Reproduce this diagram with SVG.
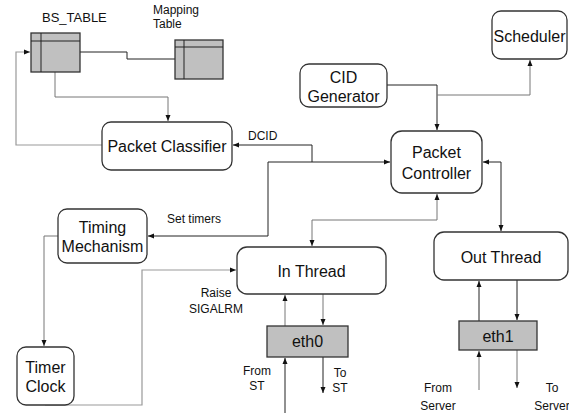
<svg xmlns="http://www.w3.org/2000/svg" width="569" height="413" viewBox="0 0 569 413">
<style>
.node{fill:#fff;stroke:#333;stroke-width:1.3}
.tbl{fill:#c0c0c0;stroke:#333;stroke-width:1.3}
.t{font-family:"Liberation Sans",Arial,sans-serif;font-size:16px;fill:#111;text-anchor:middle}
.s{font-family:"Liberation Sans",Arial,sans-serif;font-size:12px;fill:#111}
.c{fill:none;stroke:#222;stroke-width:1}
.g{fill:none;stroke:#777;stroke-width:1}
.lg{fill:none;stroke:#999;stroke-width:1.2}
</style>
<defs>
<marker id="a" viewBox="0 0 6 6" refX="6" refY="3" markerWidth="6" markerHeight="6" orient="auto-start-reverse" markerUnits="userSpaceOnUse">
<path d="M0,0.5 L6,3 L0,5.5 z" fill="#111"/>
</marker>
</defs>
<rect width="569" height="413" fill="#fff"/>
<g id="connectors">
<path class="c" d="M80,52 H127 V59 H175"/>
<path class="g" d="M55,72 V97 H168 V121" marker-end="url(#a)"/>
<path class="lg" d="M102,145 H16 V52 H30" marker-end="url(#a)"/>
<path class="c" d="M312,162 V145 H233" marker-end="url(#a)"/>
<path class="c" d="M390,162 H268 V236 H148" marker-start="url(#a)" marker-end="url(#a)"/>
<path class="c" d="M387,85 H437 V130" marker-end="url(#a)"/>
<path class="g" d="M437,95 H530 V60" marker-end="url(#a)"/>
<path class="g" d="M437,194 V220 H312 V246" marker-start="url(#a)" marker-end="url(#a)"/>
<path class="c" d="M483,162 H501 V231" marker-start="url(#a)" marker-end="url(#a)"/>
<path class="g" d="M58,236 H44 V346" marker-end="url(#a)"/>
<path class="lg" d="M45,405 H142 V270 H236" marker-end="url(#a)"/>
<path class="g" d="M285,326 V295" marker-end="url(#a)"/>
<path class="g" d="M323,294 V325" marker-end="url(#a)"/>
<path class="c" d="M285,413 V358" marker-end="url(#a)"/>
<path class="c" d="M323,357 V393" marker-end="url(#a)"/>
<path class="c" d="M479,321 V281" marker-end="url(#a)"/>
<path class="c" d="M517,280 V320" marker-end="url(#a)"/>
<path class="g" d="M479,390 V351" marker-end="url(#a)"/>
<path class="g" d="M517,350 V388" marker-end="url(#a)"/>
</g>
<g id="bs_table">
<rect class="tbl" x="31" y="33" width="49" height="39"/>
<path class="c" d="M31,41 H80 M41,33 V72" stroke="#444"/>
<text class="s" x="42" y="22" style="font-size:13px">BS_TABLE</text>
</g>
<g id="mapping_table">
<rect class="tbl" x="175" y="40" width="48" height="39"/>
<path class="c" d="M175,47 H223 M184,40 V79" stroke="#444"/>
<text class="s" x="153" y="14">Mapping</text>
<text class="s" x="153" y="28">Table</text>
</g>
<g id="packet_classifier">
<rect class="node" x="102" y="122" width="130" height="48" rx="9"/>
<text class="t" x="167" y="152">Packet Classifier</text>
</g>
<g id="cid_generator">
<rect class="node" x="300" y="64" width="87" height="43" rx="9"/>
<text class="t" x="343.5" y="83">CID</text>
<text class="t" x="343.5" y="102">Generator</text>
</g>
<g id="scheduler">
<rect class="node" x="492" y="11" width="75" height="48" rx="9"/>
<text class="t" x="529.5" y="42">Scheduler</text>
</g>
<g id="packet_controller">
<rect class="node" x="391" y="131" width="91" height="62" rx="11"/>
<text class="t" x="436.5" y="158">Packet</text>
<text class="t" x="436.5" y="179">Controller</text>
</g>
<g id="timing_mechanism">
<rect class="node" x="58" y="209" width="89" height="54" rx="9"/>
<text class="t" x="102.5" y="233">Timing</text>
<text class="t" x="102.5" y="252">Mechanism</text>
</g>
<g id="timer_clock">
<rect class="node" x="17" y="347" width="57" height="58" rx="9"/>
<text class="t" x="45.5" y="373">Timer</text>
<text class="t" x="45.5" y="392">Clock</text>
</g>
<g id="in_thread">
<rect class="node" x="237" y="247" width="149" height="47" rx="10"/>
<text class="t" x="311.5" y="277">In Thread</text>
</g>
<g id="out_thread">
<rect class="node" x="434" y="232" width="134" height="48" rx="10"/>
<text class="t" x="501" y="263">Out Thread</text>
</g>
<g id="eth0">
<rect class="tbl" x="267" y="326" width="81" height="31"/>
<text class="t" x="307.5" y="347">eth0</text>
</g>
<g id="eth1">
<rect class="tbl" x="459" y="321" width="78" height="29"/>
<text class="t" x="498" y="342">eth1</text>
</g>
<g id="labels">
<text class="s" x="248" y="140">DCID</text>
<text class="s" x="167" y="223">Set timers</text>
<text class="s" x="216" y="297" text-anchor="middle">Raise</text>
<text class="s" x="216" y="313" text-anchor="middle">SIGALRM</text>
<text class="s" x="257" y="375" text-anchor="middle">From</text>
<text class="s" x="257" y="390" text-anchor="middle">ST</text>
<text class="s" x="340" y="377" text-anchor="middle">To</text>
<text class="s" x="340" y="392" text-anchor="middle">ST</text>
<text class="s" x="438" y="392" text-anchor="middle">From</text>
<text class="s" x="438" y="410" text-anchor="middle">Server</text>
<text class="s" x="552" y="392" text-anchor="middle">To</text>
<text class="s" x="552" y="410" text-anchor="middle">Server</text>
</g>
</svg>
